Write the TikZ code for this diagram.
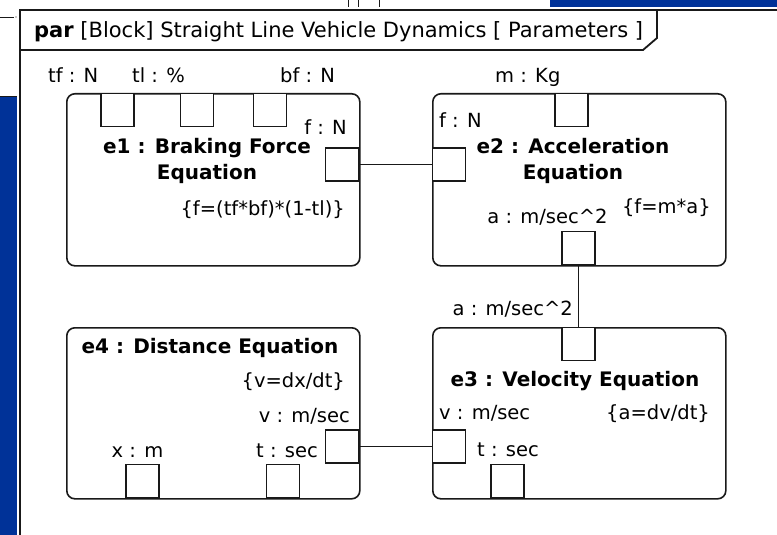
\documentclass[tikz,border=0pt]{standalone}
\usepackage{fontspec}
\setmainfont{DejaVu Sans}
\definecolor{bgblue}{RGB}{0,50,152}
\definecolor{ink}{RGB}{25,25,25}
\begin{document}
\begin{tikzpicture}[x=1pt,y=-1pt,
  blk/.style={draw=ink, line width=1.6pt, rounded corners=8pt, inner sep=0, minimum width=293pt},
  port/.style={draw=ink, line width=1.4pt, fill=white, minimum width=33pt, minimum height=33pt, inner sep=0},
  lbl/.style={font=\fontsize{19.5}{23}\selectfont, inner sep=0},
  ttl/.style={font=\bfseries\fontsize{20}{26}\selectfont, inner sep=0, align=center},
  wire/.style={draw=ink, line width=1.4pt},
  frm/.style={draw=ink, line width=1.8pt}]
\useasboundingbox (0,0) rectangle (777,535);
% surroundings
\fill[bgblue] (0,97) rectangle (17,535);
\draw[ink, line width=1pt] (0,97) -- (17,97);
\fill[bgblue] (550,0) rectangle (777,7);
\draw[ink, line width=0.8pt] (0,17) -- (14,17);
\fill[ink] (16,17) circle (0.6);
\draw[ink, line width=0.8pt] (348,0) -- (348,7) (358,0) -- (358,7) (379,0) -- (379,7);
% frame
\draw[frm] (20,535) -- (20,10) -- (777,10);
\draw[frm] (20,50) -- (643,50) -- (657,38) -- (657,10);
\node[anchor=base west, inner sep=0, font=\fontsize{21}{25}\selectfont] (hdr) at (34,38)
  {\textbf{par}\ [Block] Straight Line Vehicle Dynamics [ Parameters ]};
% blocks
\node[blk, minimum height=172pt, anchor=north west] (e1) at (66,93) {};
\node[blk, minimum height=172pt, anchor=north west] (e2) at (432,93) {};
\node[blk, minimum height=171pt, anchor=north west] (e4) at (66,327) {};
\node[blk, minimum height=171pt, anchor=north west] (e3) at (432,327) {};
% ports
\node[port, anchor=north] (e1tf) at (117.5,93) {};
\node[port, anchor=north] (e1tl) at (197,93) {};
\node[port, anchor=north] (e1bf) at (270,93) {};
\node[port, anchor=east] (e1f) at (359,164.5) {};
\node[port, anchor=west] (e2f) at (432,164.5) {};
\node[port, anchor=north] (e2m) at (571.5,93) {};
\node[port, anchor=south] (e2a) at (578.5,265) {};
\node[port, anchor=north] (e3a) at (578.5,327) {};
\node[port, anchor=west] (e3v) at (432,446.5) {};
\node[port, anchor=south] (e3t) at (507.5,498) {};
\node[port, anchor=east] (e4v) at (359,446.5) {};
\node[port, anchor=south] (e4x) at (142.5,498) {};
\node[port, anchor=south] (e4t) at (283,498) {};
% connectors
\draw[wire] (e1f.east) -- (e2f.west);
\draw[wire] (e2a.south) -- (e3a.north);
\draw[wire] (e4v.east) -- (e3v.west);
% labels outside
\node[lbl, anchor=base west] (ltf) at (48,83) {tf : N};
\node[lbl, anchor=base west] (ltl) at (132,83) {tl : \%};
\node[lbl, anchor=base west] (lbf) at (280,83) {bf : N};
\node[lbl, anchor=base west] (lm) at (495,83) {m : Kg};
\node[lbl, anchor=base east] (la3) at (573,315) {a : m/sec\^{}2};
% e1
\node[lbl, anchor=base east] (le1f) at (347,135) {f : N};
\node[ttl, anchor=base] (t1) at (207,179) {e1 : Braking Force\\Equation};
\node[lbl, anchor=base east] (q1) at (345,215) {\{f=(tf*bf)*(1-tl)\}};
% e2
\node[lbl, anchor=base west] (le2f) at (439,127) {f : N};
\node[ttl, anchor=base] (t2) at (573,179) {e2 : Acceleration\\Equation};
\node[lbl, anchor=base east] (q2) at (711,213) {\{f=m*a\}};
\node[lbl, anchor=base] (la2) at (547.5,223) {a : m/sec\^{}2};
% e3
\node[ttl, anchor=base] (t3) at (575,386) {e3 : Velocity Equation};
\node[lbl, anchor=base west] (lv3) at (439,419) {v : m/sec};
\node[lbl, anchor=base east] (q3) at (710,419) {\{a=dv/dt\}};
\node[lbl, anchor=base west] (lt3) at (477,456) {t : sec};
% e4
\node[ttl, anchor=base] (t4) at (210,353) {e4 : Distance Equation};
\node[lbl, anchor=base east] (q4) at (345,387) {\{v=dx/dt\}};
\node[lbl, anchor=base east] (lv4) at (350,422) {v : m/sec};
\node[lbl, anchor=base east] (lt4) at (318,457) {t : sec};
\node[lbl, anchor=base] (lx4) at (137.5,457) {x : m};
\end{tikzpicture}
\end{document}
